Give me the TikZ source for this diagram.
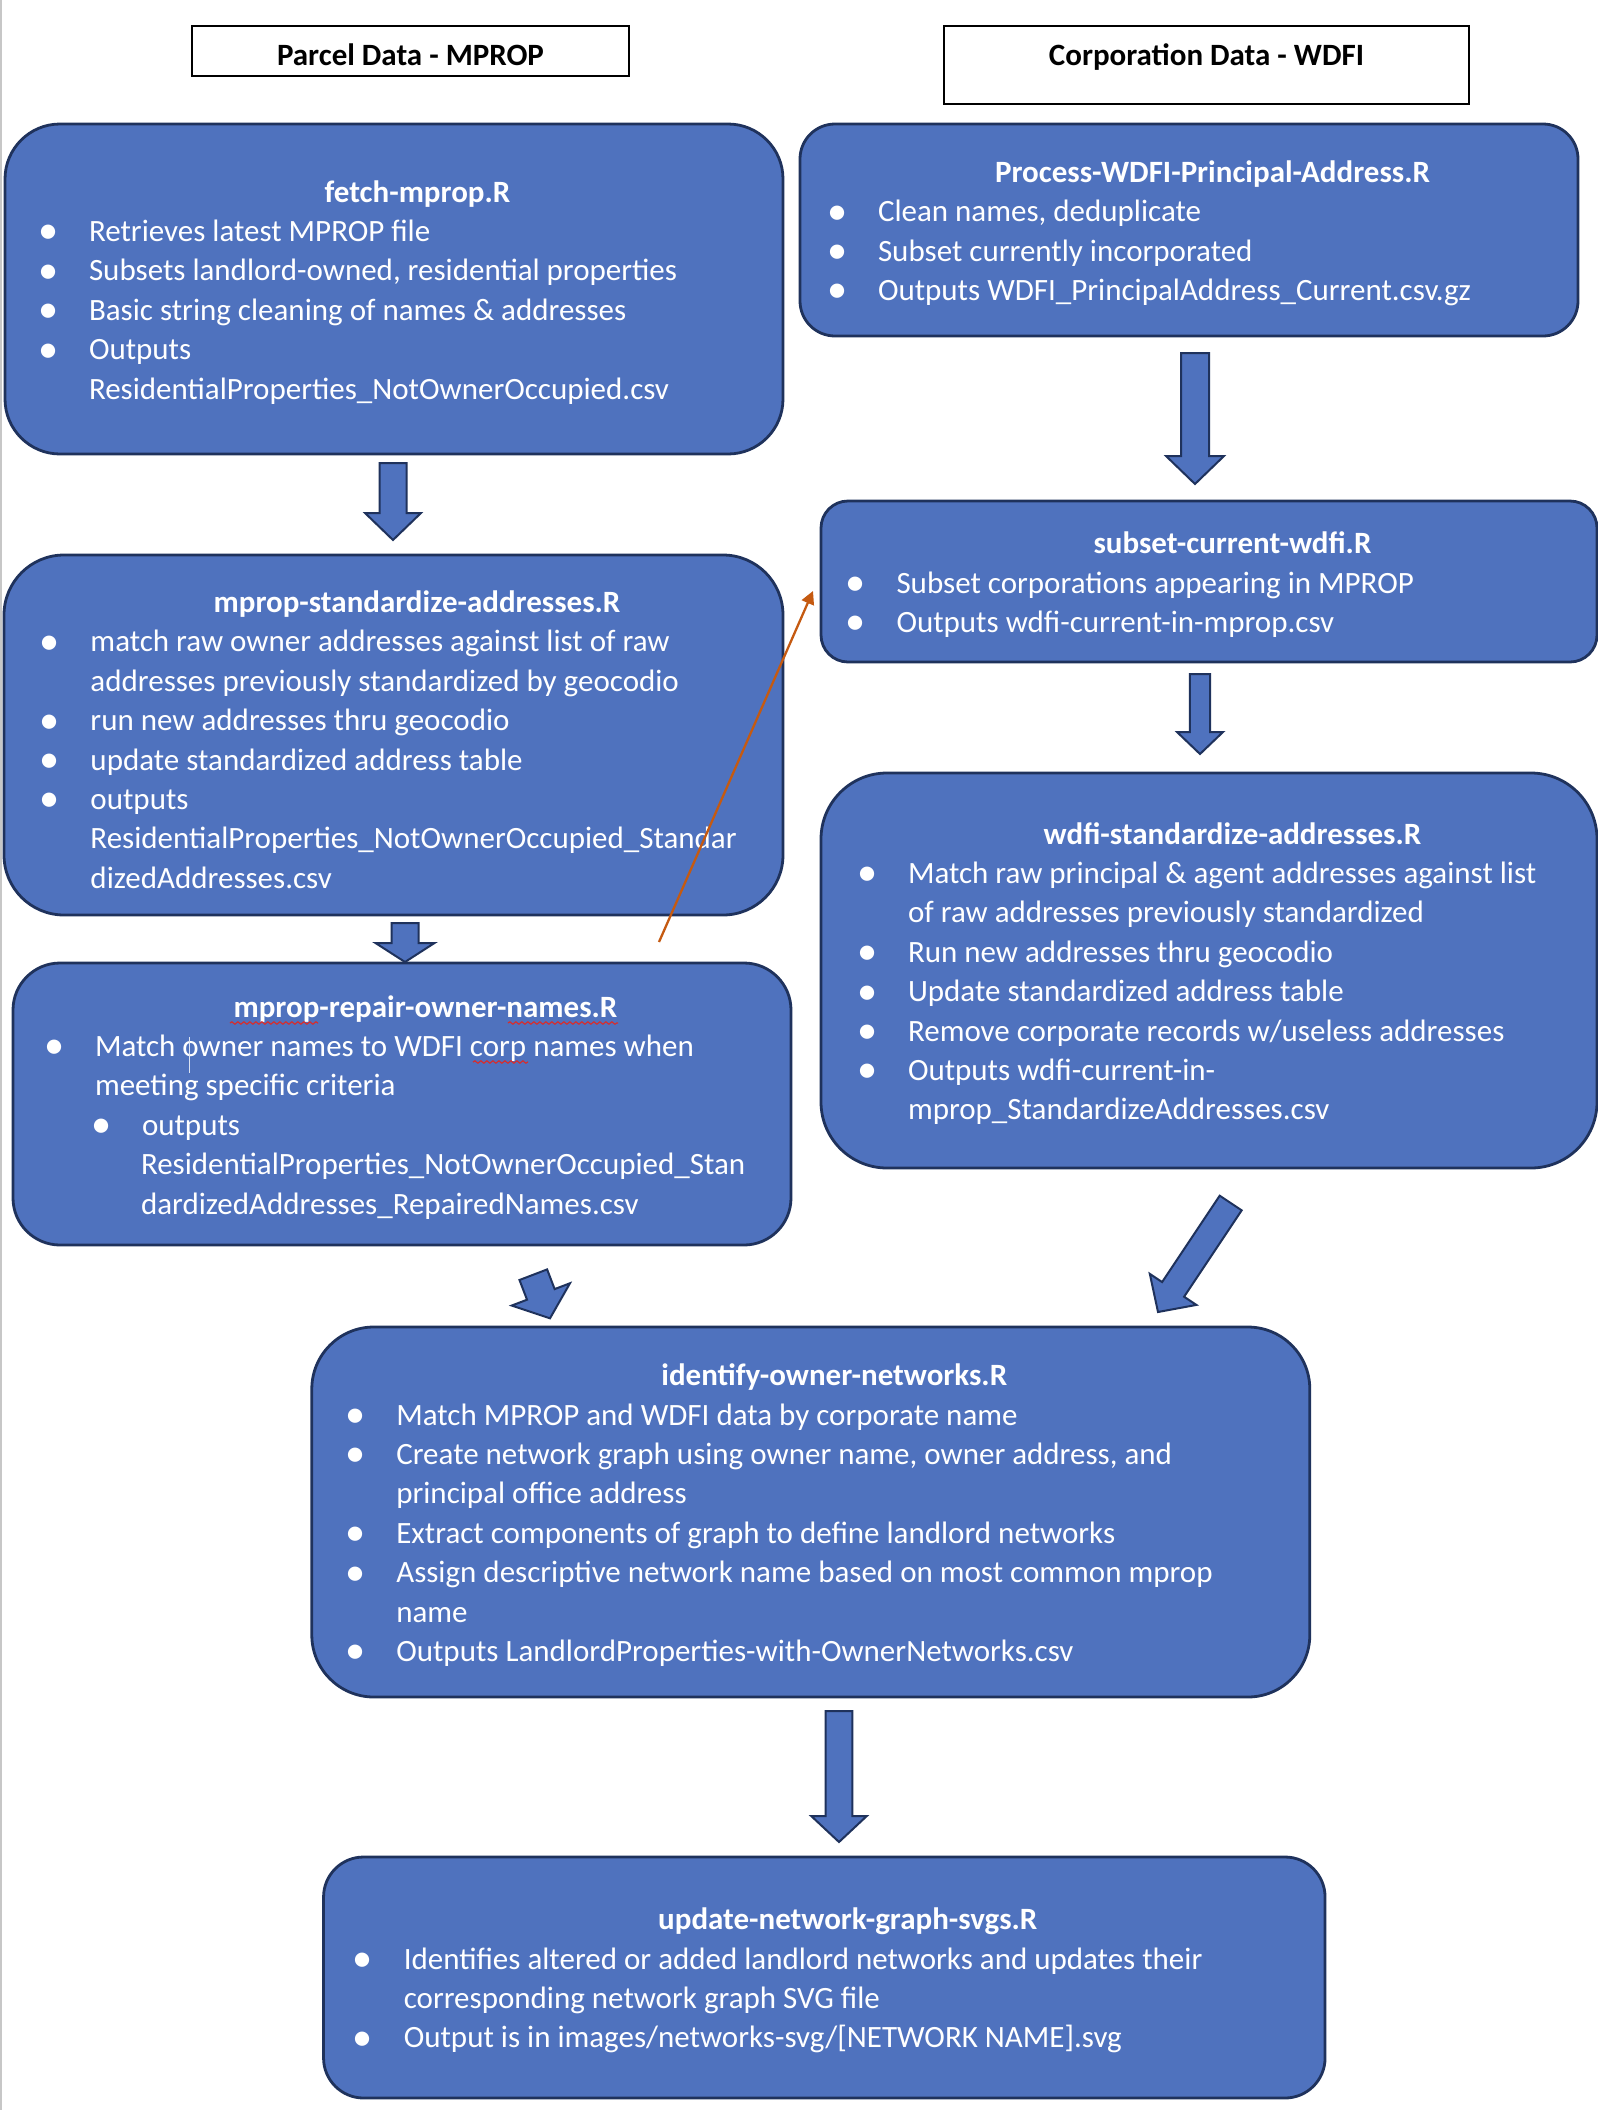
\documentclass[tikz,border=0pt]{standalone}
\usepackage{fontspec}
\setmainfont{Carlito}
\usepackage{graphicx}
\usepackage{tikz}
\usetikzlibrary{calc,arrows.meta,decorations.pathmorphing}
\definecolor{wordblue}{RGB}{79,114,190}
\definecolor{navyline}{RGB}{31,50,92}
\definecolor{burnt}{RGB}{197,90,17}
\definecolor{spellred}{RGB}{214,45,45}
\hyphenpenalty=10000
\exhyphenpenalty=10000

% bullet lists inside the boxes
\newcommand{\bul}{\makebox[23.5pt][l]{\hspace*{-2pt}\raisebox{-1.2pt}{\scalebox{1.3}{\textbullet}}}}
\newcommand{\plainsp}{\spaceskip=0pt\xspaceskip=0pt\rightskip=-15pt plus 1fil}
\newcommand{\ttl}[2][14pt]{{\spaceskip=0pt\xspaceskip=0pt\leftskip=23.5pt plus 1fil\rightskip=0pt plus 1fil\parfillskip=0pt\bfseries\noindent\rule{0pt}{#1}#2\par}}
\newcommand{\itm}[1]{\par\plainsp\hangindent=23.5pt\hangafter=1\noindent\bul #1\par}
\newcommand{\subitm}[1]{\par\plainsp\hangindent=46.5pt\hangafter=1\noindent\hspace*{23.5pt}\bul #1\par}
% block arrow: from, to, shaft half width, head half width, head length
\newcommand{\blockarrow}[5]{%
  \draw[blk] ($(#1)!#3!90:(#2)$)
    -- ($($(#2)!#5!(#1)$)!#3!90:(#2)$)
    -- ($($(#2)!#5!(#1)$)!#4!90:(#2)$)
    -- (#2)
    -- ($($(#2)!#5!(#1)$)!#4!-90:(#2)$)
    -- ($($(#2)!#5!(#1)$)!#3!-90:(#2)$)
    -- ($(#1)!#3!-90:(#2)$) -- cycle;}

\begin{document}
\begin{tikzpicture}[
  x=0.5pt, y=-0.5pt,
  proc/.style={draw=navyline, line width=1.4pt, fill=wordblue, text=white,
               inner sep=0pt, align=left,
               font=\fontsize{15.5pt}{19.7pt}\selectfont},
  hdr/.style={draw=black, line width=0.75pt, fill=white, inner sep=0pt,
              anchor=north, text height=20pt,
              font=\fontsize{15.5pt}{19.7pt}\selectfont\bfseries},
  blk/.style={draw=navyline, line width=1pt, fill=wordblue, line join=miter},
  fix/.style={-{Triangle[length=6.5pt, width=6.5pt]}, burnt, line width=1.15pt},
  spell/.style={spellred, line width=0.6pt, decorate,
                decoration={snake, amplitude=0.6pt, segment length=3pt}},
]
\path[use as bounding box, fill=white] (0,0) rectangle (1598,2110);
\draw[black!22, line width=1pt] (1,0) -- (1,2110);

% column headers
\node[hdr, minimum width=218.5pt, text depth=5pt] (hdrm) at (410.5,25) {Parcel Data - MPROP};
\node[hdr, minimum width=262.5pt, text depth=19pt] (hdrw) at (1206.5,25) {Corporation Data - WDFI};

% MPROP side
\node[proc, minimum width=389pt, minimum height=165pt, rounded corners=27.5pt,
      text width=352pt] (fetch) at (394,289) {%
  \ttl{fetch-mprop.R}
  \itm{Retrieves latest MPROP file}
  \itm{Subsets landlord-owned, residential properties}
  \itm{Basic string cleaning of names \& addresses}
  \itm{Outputs\newline ResidentialProperties\_NotOwnerOccupied.csv}};

\node[proc, minimum width=389.5pt, minimum height=180pt, rounded corners=30pt,
      text width=350pt] (mstd) at (393.5,735) {%
  \ttl[15.5pt]{mprop-standardize-addresses.R}
  \itm{match raw owner addresses against list of raw\newline addresses previously standardized by geocodio}
  \itm{run new addresses thru geocodio}
  \itm{update standardized address table}
  \itm{outputs\newline ResidentialProperties\_NotOwnerOccupied\_Standar\newline dizedAddresses.csv}};

\node[proc, minimum width=389pt, minimum height=141pt, rounded corners=23.5pt,
      text width=354pt] (repair) at (402,1104) {%
  \ttl{mprop-repair-owner-names.R}
  \itm{Match owner names to WDFI corp names when\newline meeting specific criteria}
  \subitm{outputs\newline ResidentialProperties\_NotOwnerOccupied\_Stan\newline dardizedAddresses\_RepairedNames.csv}};

% WDFI side
\node[proc, minimum width=389pt, minimum height=106pt, rounded corners=17.5pt,
      text width=358pt] (procw) at (1189,230) {%
  \ttl{Process-WDFI-Principal-Address.R}
  \itm{Clean names, deduplicate}
  \itm{Subset currently incorporated}
  \itm{Outputs WDFI\_PrincipalAddress\_Current.csv.gz}};

\node[proc, minimum width=388pt, minimum height=80.5pt, rounded corners=13.5pt,
      text width=359.5pt] (subw) at (1209,581.5) {%
  \ttl{subset-current-wdfi.R}
  \itm{Subset corporations appearing in MPROP}
  \itm{Outputs wdfi-current-in-mprop.csv}};

\node[proc, minimum width=388pt, minimum height=197.5pt, rounded corners=33pt,
      text width=348pt] (wstd) at (1209,970.5) {%
  \ttl{wdfi-standardize-addresses.R}
  \itm{Match raw principal \& agent addresses against list\newline of raw addresses previously standardized}
  \itm{Run new addresses thru geocodio}
  \itm{Update standardized address table}
  \itm{Remove corporate records w/useless addresses}
  \itm{Outputs wdfi-current-in-\newline mprop\_StandardizeAddresses.csv}};

% joined steps
\node[proc, minimum width=499pt, minimum height=185pt, rounded corners=31pt,
      text width=461.5pt] (ident) at (810.8,1512) {%
  \ttl{identify-owner-networks.R}
  \itm{Match MPROP and WDFI data by corporate name}
  \itm{Create network graph using owner name, owner address, and\newline principal office address}
  \itm{Extract components of graph to define landlord networks}
  \itm{Assign descriptive network name based on most common mprop\newline name}
  \itm{Outputs LandlordProperties-with-OwnerNetworks.csv}};

\node[proc, minimum width=500.75pt, minimum height=120.5pt, rounded corners=20pt,
      text width=467.5pt] (upd) at (824.3,1977.5) {%
  \ttl{update-network-graph-svgs.R}
  \itm{Identifies altered or added landlord networks and updates their\newline corresponding network graph SVG file}
  \itm{Output is in images/networks-svg/[NETWORK NAME].svg}};

% block arrows
\coordinate (a1s) at (393,463);    \coordinate (a1e) at (393,540);
\coordinate (a2s) at (1195,353);   \coordinate (a2e) at (1195,484);
\coordinate (a3s) at (405,923);    \coordinate (a3e) at (405,962);
\coordinate (a4s) at (1200,674);   \coordinate (a4e) at (1200,754);
\coordinate (a5s) at (1230.7,1203);\coordinate (a5e) at (1158,1312);
\coordinate (a6s) at (533.3,1274.7);\coordinate (a6e) at (550,1318.3);
\coordinate (a7s) at (839,1711);   \coordinate (a7e) at (839,1842);
\blockarrow{a1s}{a1e}{6.75pt}{14pt}{13.5pt}
\blockarrow{a2s}{a2e}{7pt}{14.5pt}{14pt}
\blockarrow{a3s}{a3e}{6.75pt}{14.75pt}{9.5pt}
\blockarrow{a4s}{a4e}{5.1pt}{11.5pt}{11pt}
\blockarrow{a5s}{a5e}{6.6pt}{14pt}{13.6pt}
\blockarrow{a6s}{a6e}{7.4pt}{15.6pt}{12.8pt}
\blockarrow{a7s}{a7e}{6.65pt}{13.9pt}{13pt}

% orange link
\coordinate (fx1) at (659,942);
\coordinate (fx2) at (813,591);
\draw[fix] (fx1) -- (fx2);

% spell-check marks and cursor
\draw[spell] (230,1023) -- (318,1023);
\draw[spell] (508,1023) -- (618,1023);
\draw[spell] (473,1062) -- (528,1062);
\draw[white!80!wordblue, line width=0.5pt] (189,1037) -- (189,1073);
\end{tikzpicture}
\end{document}
